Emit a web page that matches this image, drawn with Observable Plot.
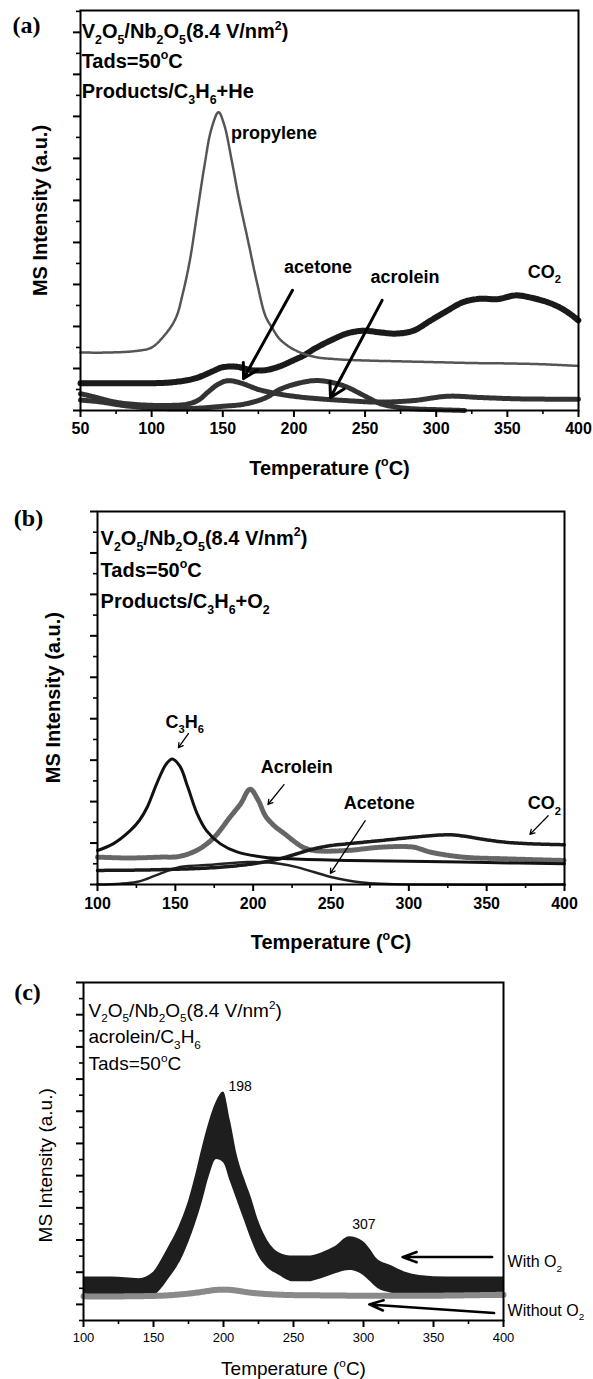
<!DOCTYPE html>
<html><head><meta charset="utf-8">
<script src="https://cdn.jsdelivr.net/npm/d3@7"></script>
<script src="https://cdn.jsdelivr.net/npm/@observablehq/plot@0.6"></script>
<style>
html,body{margin:0;padding:0;background:#fff;}
#chart{position:relative;width:593px;height:1379px;background:#fff;overflow:hidden;}
#chart svg{position:absolute;left:0;}
</style></head><body><div id="chart"></div>
<script>
// ---------- Panel (a): Products / C3H6 + He ----------
const aPropyleneT = [50,70,90,100,110,117,122,127,132,137,142,147,151,156,161,168,174,180,185,190,200,214,230,250,275,300,325,350,375,400];
const aPropyleneI = [1.38,1.38,1.42,1.5,1.83,2.2,2.8,3.6,4.7,5.8,6.7,7.1,6.8,6.0,5.1,4.0,3.05,2.25,1.95,1.7,1.45,1.28,1.22,1.19,1.17,1.15,1.13,1.12,1.1,1.06];
const aCO2T = [50,80,110,125,133,142,150,160,170,180,190,200,207,215,226,237,249,260,272,284,296,308,319,331,343,356,366,378,387,394,400];
const aCO2I = [0.65,0.65,0.66,0.72,0.79,0.92,1.03,1.04,0.96,0.96,1.05,1.2,1.31,1.48,1.67,1.83,1.9,1.86,1.83,1.9,2.14,2.38,2.58,2.66,2.65,2.74,2.69,2.58,2.45,2.3,2.14];
const aAcetoneT = [50,60,70,80,95,110,125,133,140,147,154,163,175,185,195,210,230,260,285,308,330,355,380,400];
const aAcetoneI = [0.4,0.32,0.23,0.17,0.13,0.12,0.15,0.25,0.45,0.63,0.71,0.65,0.5,0.42,0.36,0.3,0.25,0.2,0.24,0.34,0.31,0.28,0.27,0.27];
const aAcroleinT = [50,65,80,100,120,135,150,165,180,190,200,214,225,237,249,261,272,284,300,320];
const aAcroleinI = [0.25,0.2,0.12,0.06,0.04,0.06,0.1,0.15,0.3,0.5,0.62,0.71,0.68,0.56,0.36,0.16,0.08,0.04,0.02,0.0];
const aXTicks = [50,100,150,200,250,300,350,400];
const aXMinor = [75,125,175,225,275,325,375];
const aYTicks = [0,1,2,3,4,5,6,7,8,9];
const aYMinor = [0.5,1.5,2.5,3.5,4.5,5.5,6.5,7.5,8.5,9.5];
const aHeader = ["V_2O_5/Nb_2O_5(8.4 V/nm^2)", "Tads=50^oC", "Products/C_3H_6+He"];
const aHeaderT = [50.8, 50.8, 50.8];
const aHeaderI = [9.02, 8.31, 7.6];
const aLabels = ["propylene", "acetone", "acrolein", "CO_2"];
const aLabelT = [186, 217, 278, 376];
const aLabelI = [6.6, 3.4, 3.17, 3.29];
const aArrowFrom = [[199, 2.86], [262, 2.62]];
const aArrowTo = [[164.6, 0.76], [225.7, 0.31]];

// ---------- Panel (b): Products / C3H6 + O2 ----------
const bC3H6T = [100,110,121,127,132,138,144,148,153,158,164,170,179,190,207,224,260,300,350,400];
const bC3H6I = [0.82,0.98,1.3,1.55,1.87,2.43,2.9,3.03,2.85,2.35,1.71,1.3,0.98,0.78,0.66,0.62,0.58,0.56,0.53,0.5];
const bAcroleinT = [100,120,140,153,165,175,185,192,198,203,208,214,220,226,232,239,260,282,303,314,335,362,400];
const bAcroleinI = [0.66,0.64,0.66,0.68,0.85,1.14,1.62,1.95,2.3,2.05,1.65,1.4,1.23,1.05,0.9,0.82,0.82,0.9,0.9,0.78,0.66,0.62,0.58];
const bCO2T = [100,130,160,180,200,217,228,239,250,260,271,282,303,325,335,346,362,380,400];
const bCO2I = [0.34,0.35,0.38,0.42,0.5,0.62,0.74,0.86,0.94,0.98,1.02,1.06,1.14,1.2,1.17,1.1,1.02,0.98,0.96];
const bAcetoneT = [100,115,125,132,143,153,175,196,210,217,228,239,250,260,270,282,300,400];
const bAcetoneI = [0.0,0.02,0.06,0.14,0.3,0.42,0.48,0.54,0.53,0.5,0.42,0.3,0.18,0.1,0.05,0.02,0.0,0.0];
const bXTicks = [100,150,200,250,300,350,400];
const bXMinor = [125,175,225,275,325,375];
const bYTicks = [0,1,2,3,4,5,6,7,8,9];
const bYMinor = [0.5,1.5,2.5,3.5,4.5,5.5,6.5,7.5,8.5];
const bHeader = ["V_2O_5/Nb_2O_5(8.4 V/nm^2)", "Tads=50^oC", "Products/C_3H_6+O_2"];
const bHeaderT = [102, 102, 102];
const bHeaderI = [8.35, 7.58, 6.83];
const bLabels = ["C_3H_6", "Acrolein", "Acetone", "CO_2"];
const bLabelT = [156, 228, 281, 387];
const bLabelI = [3.92, 2.83, 1.95, 1.95];
const bArrowFrom = [[158.4, 3.64], [219.8, 2.41], [272, 1.54], [389.5, 1.66]];
const bArrowTo = [[152, 3.3], [209.5, 1.93], [249.6, 0.27], [377.8, 1.21]];

// ---------- Panel (c): acrolein / C3H6 ----------
// "With O2" is a wide scatter of points: lower and upper edge of the cloud
const cWithT = [100,120,140,150,156,161,166,170,175,180,185,190,195,200,205,210,215,220,225,230,240,250,260,270,280,290,300,305,310,320,330,340,360,380,400];
const cWithLow = [0.15,0.15,0.15,0.25,0.5,0.8,1.1,1.4,1.9,2.5,3.2,4.0,4.5,4.4,3.8,3.2,2.6,2.0,1.5,1.2,0.9,0.7,0.7,0.8,0.95,1.05,0.9,0.7,0.5,0.35,0.3,0.25,0.2,0.2,0.2];
const cWithHigh = [0.85,0.85,0.8,1.0,1.4,1.8,2.2,2.6,3.2,4.0,4.9,5.7,6.3,6.6,5.7,4.6,3.9,3.3,2.6,2.1,1.6,1.5,1.5,1.6,1.8,2.1,1.95,1.7,1.4,1.2,1.0,0.9,0.85,0.85,0.85];
const cWithoutT = [100,130,160,180,195,205,220,240,270,300,350,400];
const cWithoutI = [0.25,0.25,0.28,0.36,0.45,0.45,0.36,0.3,0.28,0.27,0.27,0.3];
const cXTicks = [100,150,200,250,300,350,400];
const cXMinor = [125,175,225,275,325,375];
const cYTicks = [0,1,2,3,4,5,6,7,8,9,10];
const cYMinor = [-0.5,0.5,1.5,2.5,3.5,4.5,5.5,6.5,7.5,8.5,9.5];
const cHeader = ["V_2O_5/Nb_2O_5(8.4 V/nm^2)", "acrolein/C_3H_6", "Tads=50^oC"];
const cHeaderT = [103.6, 103.6, 103.6];
const cHeaderI = [9.13, 8.3, 7.47];
const cPeaks = ["198", "307"];
const cPeakT = [203.6, 292];
const cPeakI = [6.77, 2.48];
const cLabels = ["With O_2", "Without O_2"];
const cLabelT = [402.9, 402.9];
const cLabelI = [1.31, -0.19];
const cArrowFrom = [[391.9, 1.47], [393.3, -0.27]];
const cArrowTo = [[327.9, 1.47], [304.1, 0.0]];

const xTitle = "Temperature (^oC)";
const yTitle = "MS Intensity (a.u.)";

// ---------- helpers ----------
const zip = (T, I) => T.map((t, i) => ({T: t, I: I[i]}));
const band = (T, L, H) => T.map((t, i) => ({T: t, L: L[i], H: H[i]}));
const texts = (S, T, I) => S.map((s, i) => ({s, T: T[i], I: I[i]}));
const arrows = (F, To) => F.map((f, i) => ({x1: f[0], y1: f[1], x2: To[i][0], y2: To[i][1]}));
const FONT = "'Liberation Sans', Arial, Helvetica, sans-serif";
const SERIF = "'Liberation Serif', 'Times New Roman', serif";

function axes(o) {
  const noText = () => "";
  return [
    Plot.axisX(o.xTicks, {tickSize: 7, tickPadding: o.xPad, strokeWidth: 2, fontSize: o.tickFont, fontWeight: o.fw, label: null}),
    Plot.axisX(o.xMinor, {tickSize: 4, strokeWidth: 1.6, tickFormat: noText, label: null}),
    Plot.axisY(o.yTicks, {tickSize: 7, strokeWidth: 2, tickFormat: noText, label: null}),
    Plot.axisY(o.yMinor, {tickSize: 4, strokeWidth: 1.6, tickFormat: noText, label: null}),
    Plot.frame({stroke: "#000", strokeWidth: 2})
  ];
}

function richify(svg) {
  svg.querySelectorAll("text").forEach(t => {
    const s = t.textContent;
    if (!/[_^]/.test(s)) return;
    const fs = parseFloat(getComputedStyle(t).fontSize) || 16;
    while (t.firstChild) t.removeChild(t.firstChild);
    const parts = s.match(/[_^].|[^_^]+/g);
    let shift = 0;
    parts.forEach(p => {
      const ts = document.createElementNS("http://www.w3.org/2000/svg", "tspan");
      let target = 0, txt = p, size = null;
      if (p[0] === "_") { target = 0.3 * fs; txt = p[1]; size = 0.62 * fs; }
      else if (p[0] === "^") { target = -0.42 * fs; txt = p[1]; size = 0.62 * fs; }
      const dy = target - shift; shift = target;
      if (dy) ts.setAttribute("dy", dy.toFixed(2));
      if (size) ts.setAttribute("font-size", size.toFixed(2));
      ts.textContent = txt;
      t.appendChild(ts);
    });
  });
}

const chart = document.getElementById("chart");
function place(svg, top) {
  svg.style.top = top + "px";
  chart.appendChild(svg);
  richify(svg);
}

// ---------- Panel (a) ----------
const A = Plot.plot({
  width: 593, height: 480,
  marginTop: 10, marginRight: 15, marginBottom: 70, marginLeft: 80,
  x: {domain: [50, 400]}, y: {domain: [0, 9.52]},
  style: {fontFamily: FONT, background: "transparent", overflow: "visible"},
  marks: [
    Plot.line(zip(aAcroleinT, aAcroleinI), {x: "T", y: "I", stroke: "#333", strokeWidth: 5, curve: "catmull-rom", strokeDasharray: "2 1"}),
    Plot.line(zip(aAcetoneT, aAcetoneI), {x: "T", y: "I", stroke: "#333", strokeWidth: 5, curve: "catmull-rom", strokeDasharray: "2 1"}),
    Plot.line(zip(aCO2T, aCO2I), {x: "T", y: "I", stroke: "#1a1a1a", strokeWidth: 6, curve: "catmull-rom", strokeDasharray: "2 1"}),
    Plot.line(zip(aPropyleneT, aPropyleneI), {x: "T", y: "I", stroke: "#555", strokeWidth: 2.5, curve: "catmull-rom", strokeDasharray: "1.5 1"}),
    ...axes({xTicks: aXTicks, xMinor: aXMinor, yTicks: aYTicks, yMinor: aYMinor, tickFont: 16, fw: "bold", xPad: 5}),
    Plot.arrow(arrows(aArrowFrom, aArrowTo), {x1: "x1", y1: "y1", x2: "x2", y2: "y2", stroke: "#000", strokeWidth: 3, headLength: 8}),
    Plot.text(texts(aHeader, aHeaderT, aHeaderI), {x: "T", y: "I", text: "s", textAnchor: "start", fontSize: 20, fontWeight: "bold", fill: "#000"}),
    Plot.text(texts(aLabels, aLabelT, aLabelI), {x: "T", y: "I", text: "s", fontSize: 18, fontWeight: "bold", fill: "#000"}),
    Plot.text([xTitle], {x: 225, y: -1.38, text: d => d, fontSize: 20, fontWeight: "bold", fill: "#000"}),
    Plot.text([yTitle], {x: 21.9, y: 4.76, text: d => d, rotate: -90, fontSize: 20, fontWeight: "bold", fill: "#000"}),
    Plot.text(["(a)"], {x: 12, y: 9.17, text: d => d, fontSize: 24, fontWeight: "bold", fontFamily: SERIF, fill: "#000"})
  ]
});
place(A, 0);

// ---------- Panel (b) ----------
const B = Plot.plot({
  width: 593, height: 480,
  marginTop: 31, marginRight: 29, marginBottom: 76, marginLeft: 97,
  x: {domain: [100, 400]}, y: {domain: [0, 9]},
  style: {fontFamily: FONT, background: "transparent", overflow: "visible"},
  marks: [
    Plot.line(zip(bAcroleinT, bAcroleinI), {x: "T", y: "I", stroke: "#666", strokeWidth: 5, curve: "catmull-rom", strokeDasharray: "1 1.5"}),
    Plot.line(zip(bAcetoneT, bAcetoneI), {x: "T", y: "I", stroke: "#222", strokeWidth: 2.5, curve: "catmull-rom"}),
    Plot.line(zip(bCO2T, bCO2I), {x: "T", y: "I", stroke: "#1a1a1a", strokeWidth: 3.5, curve: "catmull-rom", strokeDasharray: "2 1"}),
    Plot.line(zip(bC3H6T, bC3H6I), {x: "T", y: "I", stroke: "#111", strokeWidth: 3, curve: "catmull-rom"}),
    ...axes({xTicks: bXTicks, xMinor: bXMinor, yTicks: bYTicks, yMinor: bYMinor, tickFont: 16, fw: "bold", xPad: 6}),
    Plot.arrow(arrows(bArrowFrom, bArrowTo), {x1: "x1", y1: "y1", x2: "x2", y2: "y2", stroke: "#000", strokeWidth: 1.3, headLength: 6}),
    Plot.text(texts(bHeader, bHeaderT, bHeaderI), {x: "T", y: "I", text: "s", textAnchor: "start", fontSize: 20, fontWeight: "bold", fill: "#000"}),
    Plot.text(texts(bLabels, bLabelT, bLabelI), {x: "T", y: "I", text: "s", fontSize: 18, fontWeight: "bold", fill: "#000"}),
    Plot.text([xTitle], {x: 250, y: -1.39, text: d => d, fontSize: 20, fontWeight: "bold", fill: "#000"}),
    Plot.text([yTitle], {x: 71.7, y: 4.51, text: d => d, rotate: -90, fontSize: 20, fontWeight: "bold", fill: "#000"}),
    Plot.text(["(b)"], {x: 55.7, y: 8.83, text: d => d, fontSize: 24, fontWeight: "bold", fontFamily: SERIF, fill: "#000"})
  ]
});
place(B, 480);

// ---------- Panel (c) ----------
const C = Plot.plot({
  width: 593, height: 419,
  marginTop: 22, marginRight: 90, marginBottom: 59, marginLeft: 83,
  x: {domain: [100, 400]}, y: {domain: [-0.5, 10]},
  style: {fontFamily: FONT, background: "transparent", overflow: "visible"},
  marks: [
    Plot.areaY(band(cWithT, cWithLow, cWithHigh), {x: "T", y1: "L", y2: "H", fill: "#1e1e1e", curve: "monotone-x"}),
    Plot.line(zip(cWithoutT, cWithoutI), {x: "T", y: "I", stroke: "#8a8a8a", strokeWidth: 6, curve: "catmull-rom", strokeDasharray: "1.5 1"}),
    ...axes({xTicks: cXTicks, xMinor: cXMinor, yTicks: cYTicks, yMinor: cYMinor, tickFont: 13, fw: "normal", xPad: 5}),
    Plot.arrow(arrows(cArrowFrom, cArrowTo), {x1: "x1", y1: "y1", x2: "x2", y2: "y2", stroke: "#000", strokeWidth: 2.5, headLength: 9, headAngle: 40}),
    Plot.text(texts(cHeader, cHeaderT, cHeaderI), {x: "T", y: "I", text: "s", textAnchor: "start", fontSize: 19, fill: "#000"}),
    Plot.text(texts(cPeaks, cPeakT, cPeakI), {x: "T", y: "I", text: "s", textAnchor: "start", fontSize: 14, fill: "#000"}),
    Plot.text(texts(cLabels, cLabelT, cLabelI), {x: "T", y: "I", text: "s", textAnchor: "start", fontSize: 16, fill: "#000"}),
    Plot.text([xTitle], {x: 250, y: -1.99, text: d => d, fontSize: 19, fill: "#000"}),
    Plot.text([yTitle], {x: 72.9, y: 4.32, text: d => d, rotate: -90, fontSize: 19, fill: "#000"}),
    Plot.text(["(c)"], {x: 60, y: 9.69, text: d => d, fontSize: 24, fontWeight: "bold", fontFamily: SERIF, fill: "#000"})
  ]
});
place(C, 960);
</script></body></html>
